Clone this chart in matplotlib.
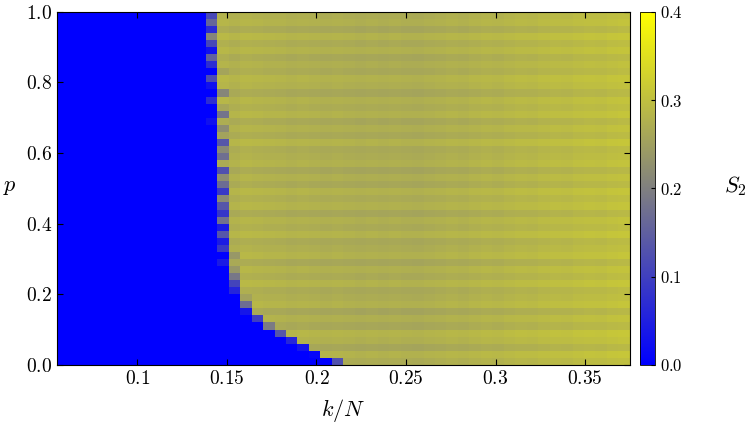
import numpy as np
import matplotlib
matplotlib.use("Agg")
import matplotlib.pyplot as plt
from matplotlib.colors import LinearSegmentedColormap

plt.rcParams['mathtext.fontset'] = 'cm'
plt.rcParams['font.family'] = 'serif'
plt.rcParams['font.serif'] = ['DejaVu Serif']

# grid edges
k_min, k_max, n_k = 0.055, 0.375, 50
p_min, p_max, n_p = 0.0, 1.0, 50

# transition position k/N per row of p (bottom to top)
boundary = [0.212, 0.202, 0.195, 0.188, 0.180, 0.172, 0.168, 0.163, 0.160, 0.158,
            0.156, 0.155, 0.153, 0.152, 0.150, 0.152, 0.149, 0.150, 0.148, 0.150,
            0.147, 0.149, 0.148, 0.146, 0.149, 0.147, 0.146, 0.148, 0.145, 0.147,
            0.146, 0.148, 0.145, 0.146, 0.144, 0.147, 0.145, 0.143, 0.146, 0.144,
            0.142, 0.145, 0.143, 0.141, 0.144, 0.142, 0.140, 0.143, 0.141, 0.142]
# S2 level in the ordered phase per column (left to right)
plateau = [0.28, 0.28, 0.28, 0.28, 0.28, 0.28, 0.28, 0.28, 0.28, 0.28,
           0.28, 0.28, 0.28, 0.28, 0.28, 0.275, 0.28, 0.278, 0.276, 0.275,
           0.272, 0.274, 0.272, 0.27, 0.272, 0.27, 0.268, 0.27, 0.268, 0.27,
           0.268, 0.267, 0.27, 0.272, 0.275, 0.273, 0.277, 0.28, 0.278, 0.282,
           0.285, 0.284, 0.288, 0.29, 0.289, 0.293, 0.295, 0.294, 0.298, 0.3]
# small row-to-row variation in the ordered phase
row_shift = [0.0, 0.01, -0.01, 0.005, 0.012, -0.008, 0.004, -0.012, 0.008, 0.0,
             -0.006, 0.01, -0.004, 0.006, -0.01, 0.008, 0.0, -0.007, 0.01, -0.003,
             0.005, -0.01, 0.007, -0.002, 0.009, -0.008, 0.003, -0.011, 0.006, 0.0,
             -0.005, 0.01, -0.007, 0.004, -0.009, 0.008, -0.002, 0.006, -0.01, 0.003,
             0.009, -0.006, 0.002, -0.008, 0.007, -0.004, 0.01, -0.009, 0.005, 0.0]

k_edges = np.linspace(k_min, k_max, n_k + 1)
p_edges = np.linspace(p_min, p_max, n_p + 1)
k_c = 0.5 * (k_edges[:-1] + k_edges[1:])
Z = np.zeros((n_p, n_k))
for i in range(n_p):
    for j in range(n_k):
        d = (k_c[j] - boundary[i]) / 0.0064
        frac = np.clip(d + 0.5, 0, 1)
        Z[i, j] = frac * (plateau[j] + row_shift[i])

cmap = LinearSegmentedColormap.from_list('by', [(0, (0, 0, 1)), (0.5, (0.5, 0.5, 0.5)), (1, (1, 1, 0))])

fig = plt.figure(figsize=(7.48, 4.38), dpi=100)
ax = fig.add_axes([0.076, 0.167, 0.766, 0.806])
mesh = ax.pcolormesh(k_edges, p_edges, Z, cmap=cmap, vmin=0, vmax=0.4)
ax.set_xlim(k_min, k_max)
ax.set_ylim(0, 1)
xt = [0.1, 0.15, 0.2, 0.25, 0.3, 0.35]
ax.set_xticks(xt)
ax.set_xticklabels([f"${v:g}$" for v in xt], fontsize=14)
yt = [0.0, 0.2, 0.4, 0.6, 0.8, 1.0]
ax.set_yticks(yt)
ax.set_yticklabels([f"${v:.1f}$" for v in yt], fontsize=14)
ax.tick_params(direction='in', length=4, top=True, right=True)
fig.text(343 / 748, 1 - 410 / 438, r"$k/N$", fontsize=16, ha='center', va='center')
fig.text(10 / 748, 1 - 186 / 438, r"$p$", fontsize=16, ha='center', va='center')

cax = fig.add_axes([0.856, 0.167, 0.02, 0.806])
cb = fig.colorbar(mesh, cax=cax)
ct = [0.0, 0.1, 0.2, 0.3, 0.4]
cb.set_ticks(ct)
cb.set_ticklabels([f"${v:.1f}$" for v in ct], fontsize=12)
cb.ax.tick_params(direction='in', length=3)
cb.outline.set_linewidth(0.6)
fig.text(735 / 748, 1 - 186 / 438, r"$S_2$", fontsize=16, ha='center', va='center')

fig.savefig("out.png", dpi=100)
